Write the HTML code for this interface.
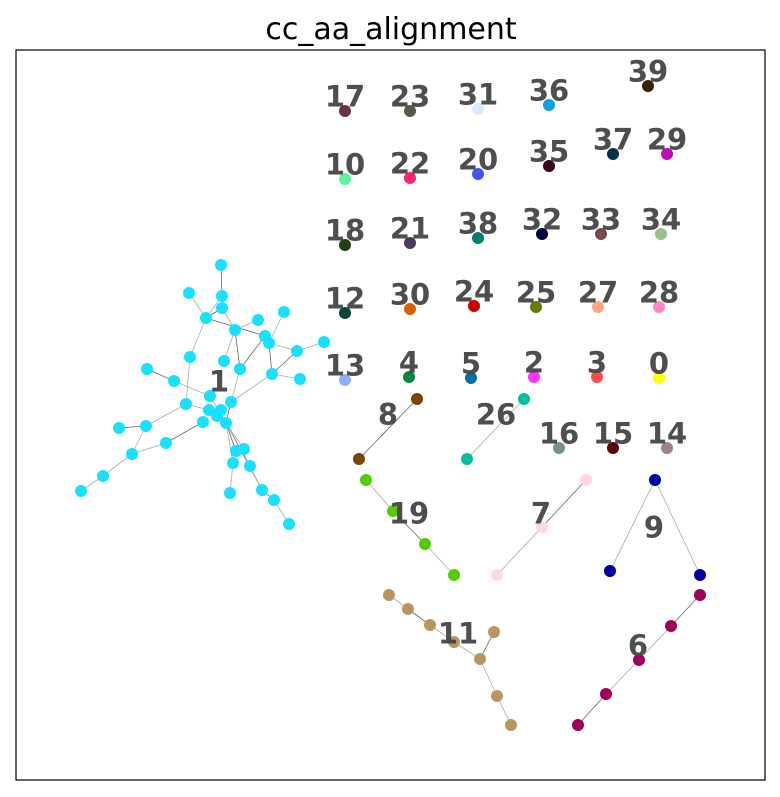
<!DOCTYPE html>
<html><head><meta charset="utf-8"><style>
html,body{margin:0;padding:0;background:#fff;}
svg{display:block;font-family:"DejaVu Sans","Liberation Sans",sans-serif;}
</style></head><body>
<svg id="chart" width="780" height="797">
<text x="391" y="39" text-anchor="middle" font-size="30" fill="#000">cc_aa_alignment</text>
<rect x="16" y="50" width="749" height="730" fill="none" stroke="#000" stroke-width="1.2"/>
<g id="edges"></g><g id="nodes"></g><g id="labels"></g>
</svg>
<script>
// Node positions per component (layout coordinates)
const comp1X=[221,189,222,222,206,235,258,284,265,269,297,324,190,224,240,147,174,272,300,210,231,186,209,221,217,203,226,119,146,166,236,244,233,250,132,103,81,230,262,274,289];
const comp1Y=[265,293,296,308,318,330,320,312,336,343,351,342,357,361,369,369,381,374,379,396,402,404,410,410,416,422,423,428,426,443,451,449,463,466,454,476,491,493,490,500,524];
const comp1Edges=[[0,2],[1,4],[2,4],[3,4],[3,5],[4,12],[4,8],[5,6],[5,13],[5,14],[7,9],[8,9],[9,17],[9,10],[10,11],[10,17],[17,18],[17,20],[8,14],[14,20],[12,21],[15,16],[16,19],[19,26],[20,26],[21,22],[21,28],[28,27],[28,34],[34,29],[29,25],[34,35],[35,36],[26,30],[26,31],[26,32],[26,33],[26,38],[33,38],[38,39],[39,40],[32,37],[22,23],[23,24],[24,26]];
// Small components
const compIds=["8","26","19","7","9","11","6"];
const compColors=["#7a4400","#00c0a0","#55cc00","#ffd8e4","#0000a0","#b89660","#a0005a"];
const compXs=[[417,359],[524,467],[366,393,425,454],[586,542,497],[655,610,700],[389,408,430,454,480,494,497,511],[700,671,639,606,578]];
const compYs=[[399,459],[399,459],[480,511,544,575],[480,527,575],[480,571,575],[595,609,625,642,659,632,696,725],[595,626,660,694,725]];
const compEdges=[[[0,1]],[[0,1]],[[0,1],[1,2],[2,3]],[[0,1],[1,2]],[[0,1],[0,2]],[[0,1],[1,2],[2,3],[3,4],[4,5],[4,6],[6,7]],[[0,1],[1,2],[2,3],[3,4]]];
const compLabelX=[388,496,409,541,654,458,638];
const compLabelY=[414,414,513,513,527,633,645];
// Singletons
const singleIds=["17","23","31","36","39","10","22","20","35","37","29","18","21","38","32","33","34","12","30","24","25","27","28","13","4","5","2","3","0","16","15","14"];
const singleX=[345,410,478,549,648,345,410,478,549,613,667,345,410,478,542,601,661,345,410,474,536,598,659,345,409,471,534,597,659,559,613,667];
const singleY=[111,111,109,105,86,179,178,174,166,154,154,245,243,238,234,234,234,313,309,306,307,307,307,380,377,378,377,377,378,448,448,448];
const singleColors=["#6b3345","#5a5a4a","#d8eaff","#0fa0e0","#3a2200","#5ff5a0","#ff2570","#3f54ff","#3a001a","#00324a","#c00ac0","#1e4010","#4c3a5e","#00806a","#00003c","#7a4a4a","#97c08a","#00483c","#d86000","#c80000","#6b7a00","#ffa68a","#ff88c0","#8cb0ff","#008a3f","#006faa","#ff33ff","#ff4a4a","#ffff00","#7a9090","#5a0000","#a08088"];

const NS="http://www.w3.org/2000/svg";
const gE=document.getElementById('edges'),gN=document.getElementById('nodes'),gL=document.getElementById('labels');
function line(x1,y1,x2,y2,i){const l=document.createElementNS(NS,'line');l.setAttribute('x1',x1);l.setAttribute('y1',y1);l.setAttribute('x2',x2);l.setAttribute('y2',y2);l.setAttribute('stroke',i%3===0?'#666':'#aaa');l.setAttribute('stroke-width','0.8');


gE.appendChild(l);}
function node(x,y,c){const n=document.createElementNS(NS,'circle');n.setAttribute('cx',x);n.setAttribute('cy',y);n.setAttribute('r',6);n.setAttribute('fill',c);


gN.appendChild(n);}
function label(x,y,t){const e=document.createElementNS(NS,'text');e.setAttribute('x',x);e.setAttribute('y',y+10.5);e.setAttribute('text-anchor','middle');e.setAttribute('font-size','29');e.setAttribute('font-weight','bold');e.setAttribute('fill','#444');e.setAttribute('fill-opacity','0.95');e.textContent=t;


gL.appendChild(e);}
comp1Edges.forEach((e,i)=>line(comp1X[e[0]],comp1Y[e[0]],comp1X[e[1]],comp1Y[e[1]],i));
comp1X.forEach((x,i)=>node(x,comp1Y[i],'#17e1ff'));
label(219,381,'1');
compIds.forEach((id,k)=>{
  compEdges[k].forEach((e,i)=>line(compXs[k][e[0]],compYs[k][e[0]],compXs[k][e[1]],compYs[k][e[1]],i+k));
  compXs[k].forEach((x,i)=>node(x,compYs[k][i],compColors[k]));
  label(compLabelX[k],compLabelY[k],id);
});
singleIds.forEach((id,i)=>{node(singleX[i],singleY[i],singleColors[i]);label(singleX[i],singleY[i]-15,id);});
</script>
</body></html>
